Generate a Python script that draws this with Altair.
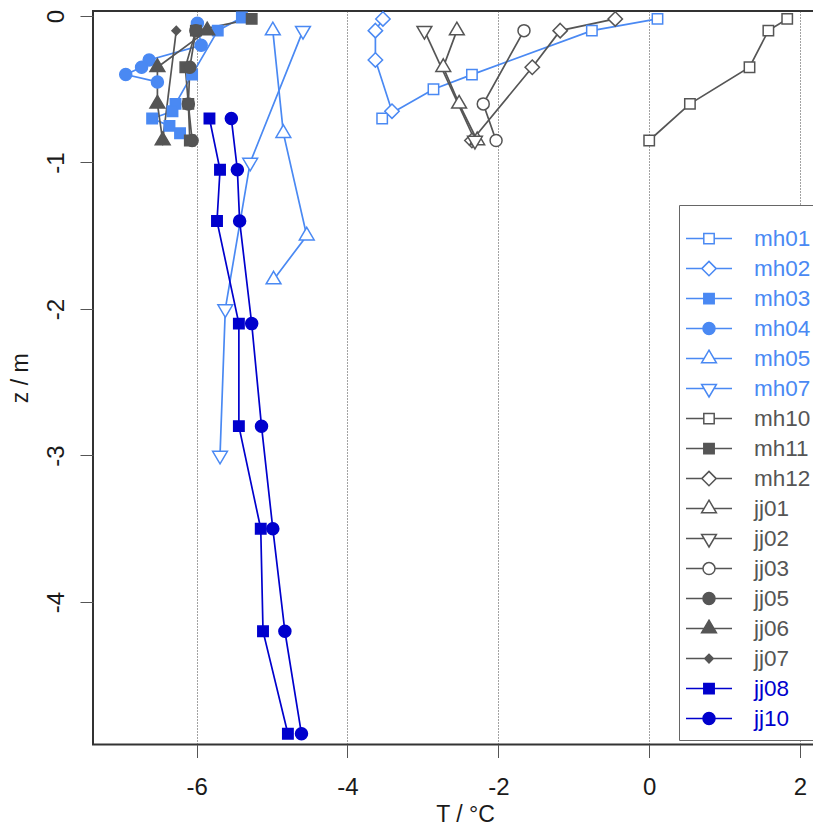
import altair as alt
import pandas as pd

# ---------------- data ----------------
series = ["mh01", "mh02", "mh03", "mh04", "mh05", "mh07", "mh10", "mh11", "mh12",
          "jj01", "jj02", "jj03", "jj05", "jj06", "jj07", "jj08", "jj10"]

T_mh01 = [0.11, -0.76, -2.35, -2.86, -3.54]
z_mh01 = [-0.02, -0.10, -0.40, -0.50, -0.70]
T_mh02 = [-3.53, -3.63, -3.63, -3.41]
z_mh02 = [-0.02, -0.10, -0.30, -0.65]
T_mh03 = [-5.40, -5.72, -6.06, -6.28, -6.32, -6.59, -6.36, -6.22]
z_mh03 = [-0.01, -0.10, -0.40, -0.60, -0.65, -0.70, -0.75, -0.80]
T_mh04 = [-5.99, -5.94, -6.63, -6.73, -6.94, -6.52]
z_mh04 = [-0.05, -0.20, -0.30, -0.35, -0.40, -0.45]
T_mh05 = [-4.99, -4.85, -4.54, -4.98]
z_mh05 = [-0.10, -0.80, -1.50, -1.80]
T_mh07 = [-4.59, -5.29, -5.62, -5.69]
z_mh07 = [-0.10, -1.00, -2.00, -3.00]
T_mh10 = [1.83, 1.58, 1.33, 0.54, 0.00]
z_mh10 = [-0.02, -0.10, -0.35, -0.60, -0.85]
T_mh11 = [-5.27, -6.01, -6.15, -6.11, -6.09]
z_mh11 = [-0.02, -0.10, -0.35, -0.60, -0.85]
T_mh12 = [-0.45, -1.18, -1.55, -2.35]
z_mh12 = [-0.02, -0.10, -0.35, -0.85]
T_jj01 = [-2.55, -2.73, -2.52, -2.28]
z_jj01 = [-0.10, -0.35, -0.60, -0.85]
T_jj02 = [-2.98, -2.31]
z_jj02 = [-0.10, -0.85]
T_jj03 = [-1.66, -2.20, -2.03]
z_jj03 = [-0.10, -0.60, -0.85]
T_jj05 = [-6.01, -6.09, -6.11, -6.06]
z_jj05 = [-0.10, -0.35, -0.60, -0.85]
T_jj06 = [-5.86, -6.52, -6.52, -6.45]
z_jj06 = [-0.10, -0.35, -0.60, -0.85]
T_jj07 = [-6.27, -6.45]
z_jj07 = [-0.10, -0.85]
T_jj08 = [-5.83, -5.69, -5.73, -5.44, -5.44, -5.15, -5.12, -4.79]
z_jj08 = [-0.70, -1.05, -1.40, -2.10, -2.80, -3.50, -4.20, -4.90]
T_jj10 = [-5.54, -5.46, -5.43, -5.27, -5.14, -4.99, -4.83, -4.61]
z_jj10 = [-0.70, -1.05, -1.40, -2.10, -2.80, -3.50, -4.20, -4.90]

T_all = [T_mh01, T_mh02, T_mh03, T_mh04, T_mh05, T_mh07, T_mh10, T_mh11, T_mh12,
         T_jj01, T_jj02, T_jj03, T_jj05, T_jj06, T_jj07, T_jj08, T_jj10]
z_all = [z_mh01, z_mh02, z_mh03, z_mh04, z_mh05, z_mh07, z_mh10, z_mh11, z_mh12,
         z_jj01, z_jj02, z_jj03, z_jj05, z_jj06, z_jj07, z_jj08, z_jj10]

x_ticks = [-6, -4, -2, 0, 2]
y_ticks = [0, -1, -2, -3, -4]

# ---------------- styles ----------------
LB = "#4A89F3"
GR = "#555555"
DB = "#0000CD"
colors = [LB] * 6 + [GR] * 9 + [DB] * 2
markers = ["sq", "di", "sq", "ci", "tu", "td", "sq", "sq", "di",
           "tu", "td", "ci", "ci", "tu", "sd", "sq", "ci"]
filled = [False, False, True, True, False, False, False, True, False,
          False, False, False, True, True, True, True, True]
fills = [c if f else "white" for c, f in zip(colors, filled)]

light_names = series[:6]
dark_names = series[15:]


def f(v):
    return f"{v:.4f}"


def marker_path(kind, s, with_line=False):
    """s = pixels per path unit."""
    if kind == "sq":
        h = 5.2 / s
        p = f"M{f(-h)},{f(-h)}H{f(h)}V{f(h)}H{f(-h)}Z"
        e = h
    elif kind == "ci":
        r = 6.0 / s
        p = f"M{f(r)},0A{f(r)},{f(r)},0,1,1,{f(-r)},0A{f(r)},{f(r)},0,1,1,{f(r)},0Z"
        e = r
    elif kind == "di":
        h = 7.2 / s
        p = f"M0,{f(-h)}L{f(h)},0L0,{f(h)}L{f(-h)},0Z"
        e = h
    elif kind == "sd":
        h = 4.3 / s
        p = f"M0,{f(-h)}L{f(h)},0L0,{f(h)}L{f(-h)},0Z"
        e = h
    elif kind == "tu":
        a, b, w = 8.4 / s, 4.2 / s, 7.4 / s
        p = f"M0,{f(-a)}L{f(w)},{f(b)}L{f(-w)},{f(b)}Z"
        e = w * a / (a + b)
    else:  # td
        a, b, w = 8.4 / s, 4.2 / s, 7.4 / s
        p = f"M0,{f(a)}L{f(w)},{f(-b)}L{f(-w)},{f(-b)}Z"
        e = w * a / (a + b)
    if with_line:
        p = f"M-1,0H{f(-e)}M{f(e)},0H1" + p
    return p


PLOT_SIZE = 144          # sqrt = 12 px -> 1 unit = 6 px
LEG_W = 46               # legend symbol width in px
plot_paths = [marker_path(k, 6.0) for k in markers]
leg_paths = [marker_path(k, LEG_W / 2, True) for k in markers]

rows = []
for name, Ts, zs in zip(series, T_all, z_all):
    for i, (t, z) in enumerate(zip(Ts, zs)):
        rows.append({"series": name, "T": t, "z": z, "i": i})
df = pd.DataFrame(rows)

FONT = "Liberation Sans"
XMIN, XMAX = -7.374, 2.49
YMIN, YMAX = -4.973, 0.034
W = 744
H = 733.5
PAD_LEFT = 85
PAD_RIGHT = 805 - PAD_LEFT - W   # negative: the plot runs past the page edge

x_enc = alt.X("T:Q",
              scale=alt.Scale(domain=[XMIN, XMAX], nice=False, zero=False),
              axis=alt.Axis(values=x_ticks, labelExpr="'' + datum.value",
                            tickSize=13, tickColor="#555555", tickWidth=1,
                            labelPadding=18, labelFontSize=24, labelFont=FONT,
                            labelColor="#1a1a1a", labelFlush=False, labelOverlap=False,
                            title="T / °C", titleFontSize=23, titleFont=FONT,
                            titleFontWeight="normal", titleColor="#1a1a1a",
                            titleBaseline="top", titleY=59,
                            grid=True, gridDash=[1, 2], gridColor="#444444",
                            gridWidth=1, domain=False))
y_enc = alt.Y("z:Q",
              scale=alt.Scale(domain=[YMIN, YMAX], nice=False, zero=False),
              axis=alt.Axis(values=y_ticks, labelExpr="'' + datum.value",
                            labelAngle=270, labelAlign="center",
                            labelBaseline="alphabetic",
                            tickSize=13, tickColor="#555555", tickWidth=1,
                            labelPadding=17, labelFontSize=24, labelFont=FONT,
                            labelColor="#1a1a1a", labelFlush=False, labelOverlap=False,
                            title="z / m", titleFontSize=23, titleFont=FONT,
                            titleFontWeight="normal", titleColor="#1a1a1a",
                            titleAngle=270, titleBaseline="alphabetic", titleX=-66,
                            grid=False, domain=False))

stroke_scale = alt.Scale(domain=series, range=colors)
fill_scale = alt.Scale(domain=series, range=fills)

lines = alt.Chart(df).mark_line(strokeWidth=1.7).encode(
    x=x_enc, y=y_enc,
    stroke=alt.Stroke("series:N", scale=stroke_scale, legend=None),
    detail="series:N",
    order=alt.Order("i:Q"),
)

points = alt.Chart(df).mark_point(opacity=1, strokeWidth=1.5, size=PLOT_SIZE).encode(
    x=x_enc, y=y_enc,
    shape=alt.Shape("series:N", scale=alt.Scale(domain=series, range=plot_paths), legend=None),
    stroke=alt.Stroke("series:N", scale=stroke_scale, legend=None),
    fill=alt.Fill("series:N", scale=fill_scale, legend=None),
)

label_color_expr = (
    f"indexof({dark_names}, datum.value) >= 0 ? '{DB}' : "
    f"(indexof({light_names}, datum.value) >= 0 ? '{LB}' : '{GR}')"
)

leg = alt.Legend(
    title=" ", titleFontSize=8, titlePadding=5,
    orient="none", legendX=586, legendY=194,
    padding=6, strokeColor="#666666", fillColor="white",
    symbolSize=LEG_W * LEG_W, symbolStrokeWidth=1.5,
    clipHeight=29.2, rowPadding=0,
    labelFontSize=22.5, labelFont=FONT, labelOffset=21, labelLimit=0,
    labelColor={"expr": label_color_expr},
    values=series,
)

legend_layer = alt.Chart(df).transform_filter("false").mark_point(
    opacity=1, strokeWidth=1.5).encode(
    x=x_enc, y=y_enc,
    shape=alt.Shape("series:N", scale=alt.Scale(domain=series, range=leg_paths), legend=leg),
    stroke=alt.Stroke("series:N", scale=alt.Scale(domain=series, range=colors), legend=leg),
    fill=alt.Fill("series:N", scale=alt.Scale(domain=series, range=fills), legend=leg),
)

chart = alt.layer(lines, points, legend_layer).resolve_scale(
    shape="independent", stroke="independent", fill="independent"
).properties(
    width=W, height=H,
    autosize=alt.AutoSizeParams(type="none"),
    padding={"left": PAD_LEFT, "top": 3, "right": PAD_RIGHT, "bottom": 85},
).configure_view(stroke="#333333", strokeWidth=2)

chart.save("out.html", embed_options={"renderer": "svg", "actions": False})
